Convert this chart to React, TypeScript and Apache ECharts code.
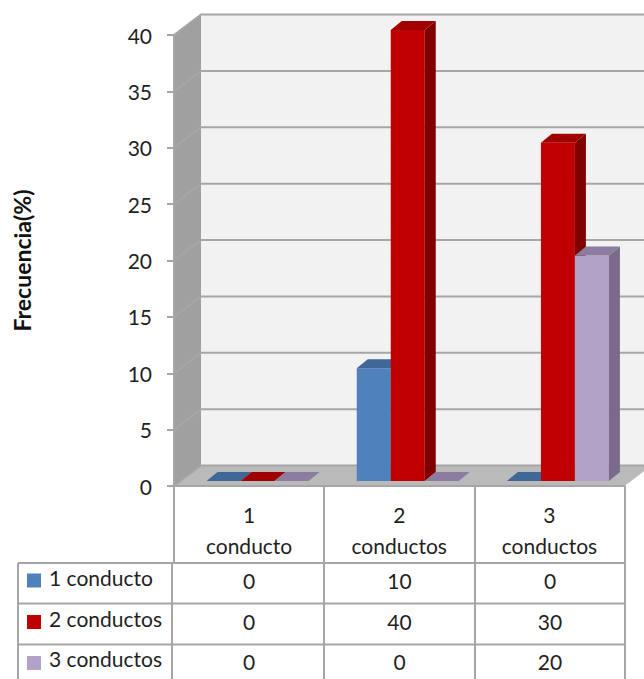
import React, { useEffect, useRef } from "react";
import * as echarts from "echarts";

const categories = ["1\nconducto", "2\nconductos", "3\nconductos"];
const seriesNames = ["1 conducto", "2 conductos", "3 conductos"];
const unConducto = [0, 10, 0];
const dosConductos = [0, 40, 30];
const tresConductos = [0, 0, 20];
const seriesValues = [unConducto, dosConductos, tresConductos];
const yTicks = [0, 5, 10, 15, 20, 25, 30, 35, 40];

const faceColors = ["#4F81BD", "#C00000", "#B2A2C7"];
const sideColors = ["#3A6291", "#800000", "#7B6A88"];
const topColors = ["#3F6797", "#A00000", "#8C7CA0"];

const FONT = "Lato";
const TEXT = "#1F1F1F";
const LINE = "#A6A6A6";

// Depth of the 3D box and of the bars inside it
const WALL_DX = 27;
const WALL_DY = -20.5;
const BAR_SHIFT_X = 8.5;
const BAR_SHIFT_Y = -5;
const BAR_DX = 11;
const BAR_DY = -9;
const BAR_WIDTH = 34;

const poly = (points: number[][], fill: string) => ({
  type: "polygon",
  shape: { points },
  style: { fill, stroke: null },
});

// Back wall, side wall, floor and gridlines of the box
function renderFrame(params: any, api: any) {
  const { x, y, width, height } = params.coordSys;
  const x1 = x + width;
  const y1 = y + height;
  const children: any[] = [
    poly(
      [
        [x + WALL_DX, y + WALL_DY],
        [x1 + WALL_DX, y + WALL_DY],
        [x1 + WALL_DX, y1 + WALL_DY],
        [x + WALL_DX, y1 + WALL_DY],
      ],
      "#F2F2F2",
    ),
    poly(
      [
        [x, y],
        [x + WALL_DX, y + WALL_DY],
        [x + WALL_DX, y1 + WALL_DY],
        [x, y1],
      ],
      "#A0A0A0",
    ),
    poly(
      [
        [x, y1],
        [x1, y1],
        [x1 + WALL_DX, y1 + WALL_DY],
        [x + WALL_DX, y1 + WALL_DY],
      ],
      "#BABABA",
    ),
  ];
  yTicks.forEach((v) => {
    const py = api.coord([0, v])[1];
    children.push({
      type: "polyline",
      shape: {
        points: [
          [x, py],
          [x + WALL_DX, py + WALL_DY],
          [x1 + WALL_DX, py + WALL_DY],
        ],
      },
      style: { stroke: LINE, lineWidth: 2, fill: null },
    });
  });
  children.push({
    type: "line",
    shape: { x1: x, y1: y, x2: x, y2: y1 },
    style: { stroke: LINE, lineWidth: 2 },
  });
  return { type: "group", children };
}

// One bar of a three-bar cluster, as front, side and top faces
function makeBarRenderer(index: number) {
  return (_params: any, api: any) => {
    const cat = api.value(0);
    const base = api.coord([cat, 0]);
    const top = api.coord([cat, api.value(1)]);
    const x0 = base[0] + BAR_SHIFT_X + (index - 1.5) * BAR_WIDTH;
    const x1 = x0 + BAR_WIDTH;
    const yb = base[1] + BAR_SHIFT_Y;
    const yt = top[1] + BAR_SHIFT_Y;
    return {
      type: "group",
      children: [
        poly(
          [
            [x0, yb],
            [x1, yb],
            [x1, yt],
            [x0, yt],
          ],
          faceColors[index],
        ),
        poly(
          [
            [x1, yb],
            [x1 + BAR_DX, yb + BAR_DY],
            [x1 + BAR_DX, yt + BAR_DY],
            [x1, yt],
          ],
          sideColors[index],
        ),
        poly(
          [
            [x0, yt],
            [x1, yt],
            [x1 + BAR_DX, yt + BAR_DY],
            [x0 + BAR_DX, yt + BAR_DY],
          ],
          topColors[index],
        ),
      ],
    };
  };
}

// Data table under the plot, with the legend keys in its first column
function tableGraphics() {
  const left = 18;
  const colX = [174, 324, 475, 625];
  const rowY = [563, 603.5, 644.5, 685];
  const keyY = [573.5, 615, 656];
  const labelY = [577.5, 618.5, 658.5];
  const valueY = [580, 621, 661];
  const els: any[] = [];
  const hLine = (y: number) => ({
    type: "line",
    shape: { x1: left, y1: y, x2: colX[3], y2: y },
    style: { stroke: LINE, lineWidth: 2 },
  });
  const vLine = (x: number) => ({
    type: "line",
    shape: { x1: x, y1: rowY[0], x2: x, y2: rowY[3] },
    style: { stroke: LINE, lineWidth: 2 },
  });
  rowY.slice(0, 3).forEach((y) => els.push(hLine(y)));
  [left, 172, colX[1], colX[2], colX[3]].forEach((x) => els.push(vLine(x)));
  seriesNames.forEach((name, r) => {
    els.push({
      type: "rect",
      shape: { x: 27, y: keyY[r], width: 14, height: 14 },
      style: { fill: faceColors[r] },
    });
    els.push({
      type: "text",
      x: 49,
      y: labelY[r],
      style: {
        text: name,
        font: `21px ${FONT}`,
        fill: TEXT,
        textAlign: "left",
        textVerticalAlign: "middle",
      },
    });
    seriesValues[r].forEach((v, c) => {
      els.push({
        type: "text",
        x: (colX[c] + colX[c + 1]) / 2,
        y: valueY[r],
        style: {
          text: String(v),
          font: `21px ${FONT}`,
          fill: TEXT,
          textAlign: "center",
          textVerticalAlign: "middle",
        },
      });
    });
  });
  return els;
}

export default function App() {
  const ref = useRef<HTMLDivElement>(null);

  useEffect(() => {
    if (!ref.current) return;
    const chart = echarts.init(ref.current, null, { renderer: "svg" });
    chart.setOption({
      animation: false,
      backgroundColor: "#FFFFFF",
      grid: { left: 174, right: 19.5, top: 35, bottom: 193, outerBoundsMode: "none" },
      xAxis: {
        type: "category",
        data: categories,
        z: 5,
        axisLine: { show: true, lineStyle: { color: LINE, width: 2 } },
        axisTick: { show: true, length: 77, lineStyle: { color: LINE, width: 2 } },
        axisLabel: {
          interval: 0,
          margin: 13,
          fontFamily: FONT,
          fontSize: 21,
          lineHeight: 31,
          color: TEXT,
        },
      },
      yAxis: {
        type: "value",
        min: 0,
        max: 40,
        interval: 5,
        name: "Frecuencia(%)",
        nameLocation: "middle",
        nameRotate: 90,
        nameGap: 141,
        nameTextStyle: { fontFamily: FONT, fontSize: 23, fontWeight: "bold", color: "#111111" },
        splitLine: { show: false },
        axisLine: { show: false },
        axisTick: { show: true, length: 7, lineStyle: { color: LINE, width: 2 } },
        axisLabel: { margin: 22, fontFamily: FONT, fontSize: 21, color: TEXT, padding: [0, 0, 2, 0] },
      },
      series: [
        {
          type: "custom",
          name: "marco",
          silent: true,
          data: [[0, 0]],
          z: 1,
          renderItem: renderFrame,
        },
        ...seriesNames.map((name, i) => ({
          type: "custom",
          name,
          z: 2 + i,
          data: seriesValues[i].map((v, c) => [c, v]),
          encode: { x: 0, y: 1 },
          renderItem: makeBarRenderer(i),
        })),
      ],
      graphic: tableGraphics(),
    });
    return () => chart.dispose();
  }, []);

  return (
    <div
      ref={ref}
      style={{ position: "absolute", left: 0, top: 0, width: 644, height: 679 }}
    />
  );
}
